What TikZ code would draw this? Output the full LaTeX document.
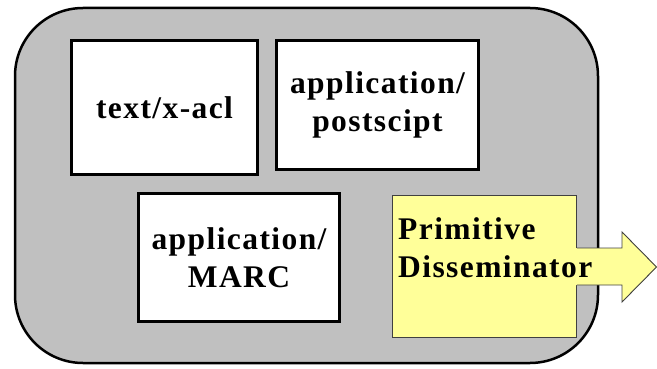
\documentclass[tikz,border=0pt]{standalone}
\usepackage{fontspec}
\newfontfamily\labelfont{Liberation Serif}[BoldFont={Liberation Serif Bold}, LetterSpace=4.5]
\definecolor{panelgray}{HTML}{C0C0C0}
\definecolor{pdyellow}{HTML}{FFFF99}
\definecolor{pdline}{HTML}{404040}
\begin{document}
\begin{tikzpicture}[x=1pt,y=-1pt,
  every node/.style={inner sep=0pt, font=\labelfont\bfseries\fontsize{31.5}{38}\selectfont},
  typebox/.style={draw=black, line width=3pt, fill=white, anchor=north west, align=center},
  pdbox/.style={draw=pdline, line width=0.9pt, fill=pdyellow, anchor=north west}]
  \useasboundingbox (0,0) rectangle (657,369);
  % outer container
  \draw[line width=2.5pt, fill=panelgray, rounded corners=68pt] (15,8) rectangle (598,363);
  % media type boxes
  \node[typebox, minimum width=186pt, minimum height=134pt] (acl) at (70,39) {text/x-acl};
  \node[typebox, minimum width=202pt, minimum height=129pt] (ps) at (275,39) {application/\\postscipt};
  \node[typebox, minimum width=201pt, minimum height=128pt] (marc) at (137,192) {application/\\MARC};
  % disseminator box with outgoing arrow
  \node[pdbox, minimum width=184pt, minimum height=142pt] (pd) at (392,195) {};
  \coordinate (st) at (pd.east |- 0,248);
  \coordinate (sb) at (pd.east |- 0,285);
  \fill[pdyellow] ([xshift=-1pt]st) -- (622,248) -- (622,232) -- (657,267) -- (622,302) -- (622,285) -- ([xshift=-1pt]sb) -- cycle;
  \draw[pdline, line width=0.9pt, line join=miter] (st) -- (622,248) -- (622,232) -- (656.5,267) -- (622,302) -- (622,285) -- (sb);
  % label baseline is that of its last line
  \node[anchor=base west, align=left] (pdtext) at (398,277) {Primitive\\Disseminator};
\end{tikzpicture}
\end{document}
